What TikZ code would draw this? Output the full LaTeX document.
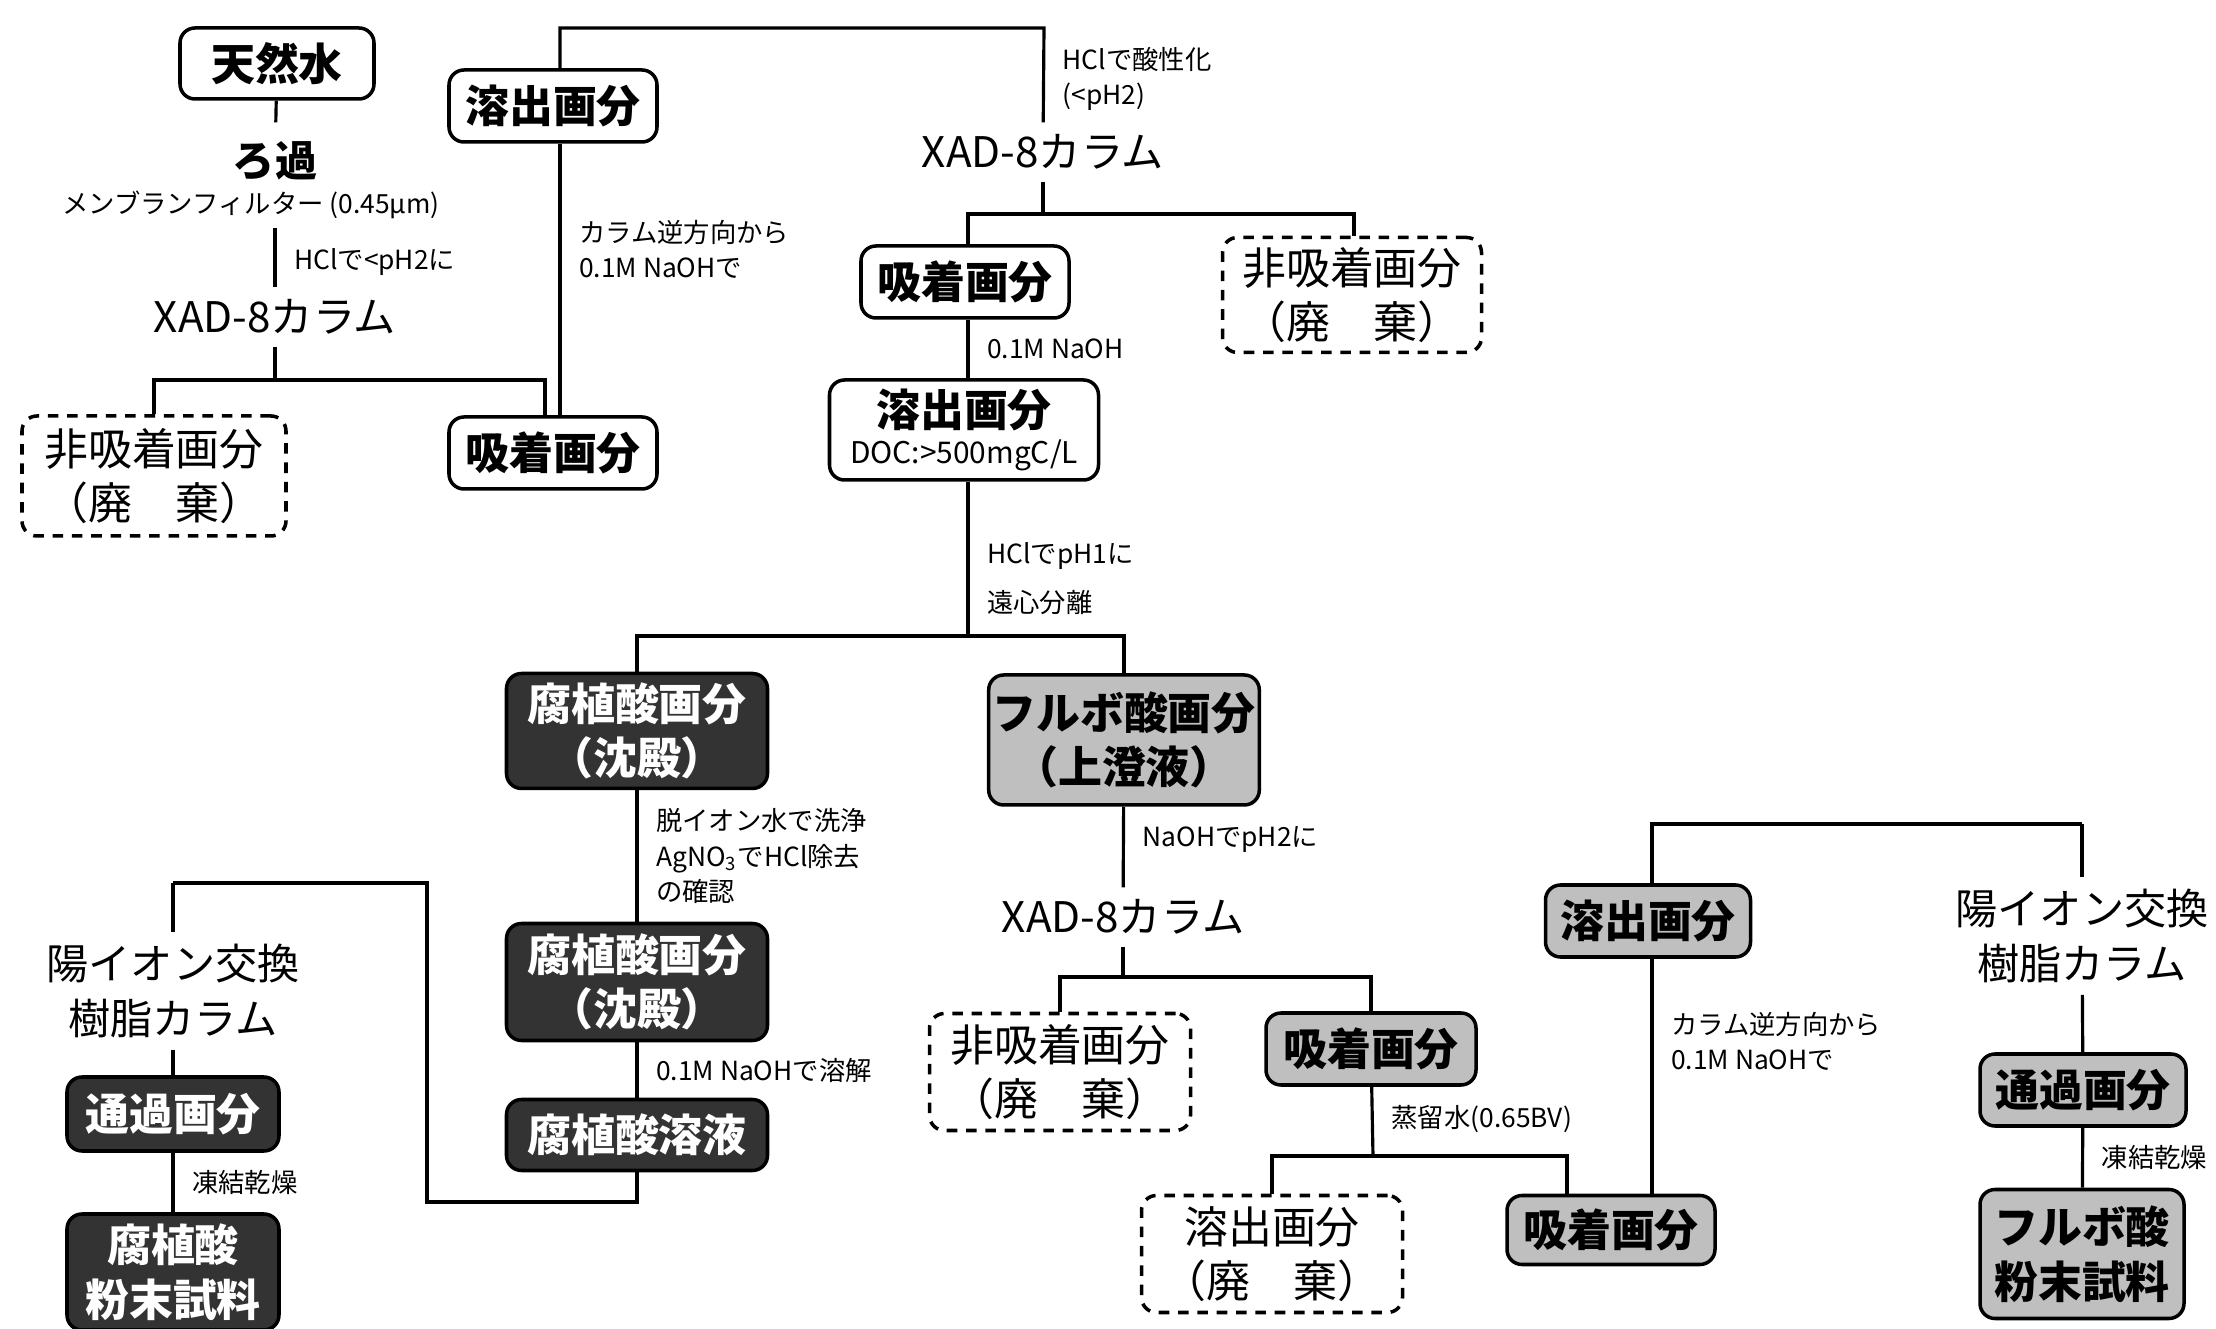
\documentclass[tikz,border=0pt]{standalone}
\usepackage{fontspec}
\newfontfamily\jp{Noto Sans CJK JP}
\newcommand{\jpbox}{\jp\bfseries\fontsize{12.5}{15.5}\selectfont}
\newcommand{\jpthin}{\jp\fontsize{12.5}{15.5}\selectfont}
\newcommand{\jpcol}{\jp\fontsize{12}{15.5}\selectfont}
\newcommand{\jpsmall}{\jp\fontsize{7.5}{10}\selectfont}
\usetikzlibrary{calc}

\begin{document}
\begin{tikzpicture}[line width=0.9pt,
        frac/.style={rectangle,rounded corners=1.5mm,draw=black,line width=1pt,fill=white,font=\jpbox,
          align=center,inner sep=1pt,minimum width=2.08cm,minimum height=0.72cm},
        dark/.style={frac,fill=black!80,text=white},
        tone/.style={frac,fill=black!25},
        waste/.style={frac,font=\jpthin,dash pattern=on 3pt off 2.5pt,minimum width=2.61cm,minimum height=1.17cm},
        colhead/.style={font=\jpcol,align=center,inner sep=3pt},
        note/.style={font=\jpsmall,align=left,inner sep=0pt,anchor=west,xshift=5pt}]
        \useasboundingbox (0,0) rectangle (22.16,-13.29);
        % left column
        \node[frac,minimum width=1.94cm,minimum height=0.71cm] (sui) at (2.77,-0.635) {天然水};
        \node[colhead,font=\jpcol\bfseries] (roka) at (2.75,-1.61) {ろ過};
        \node[font=\jpsmall,inner sep=2pt] (mem) at (2.51,-2.05) {メンブランフィルター (0.45μm)};
        \node[colhead] (xad1) at (2.75,-3.17) {XAD-8カラム};
        \node[waste,minimum width=2.64cm,minimum height=1.20cm] (hi1) at (1.54,-4.76) {非吸着画分\\（廃　棄）};
        \node[frac] (kyu1) at (5.53,-4.53) {吸着画分};
        \node[frac] (yo1) at (5.53,-1.06) {溶出画分};
        % upper middle
        \node[colhead] (xad2) at (10.43,-1.52) {XAD-8カラム};
        \node[frac] (kyu2) at (9.65,-2.82) {吸着画分};
        \node[waste,minimum width=2.59cm,minimum height=1.15cm] (hi2) at (13.52,-2.95) {非吸着画分\\（廃　棄）};
        \node[frac,minimum width=2.69cm,minimum height=1.00cm] (yo2) at (9.64,-4.30)
          {溶出画分\\[-5pt]{\jp\mdseries\fontsize{8.5}{10}\selectfont DOC:>500mgC/L}};
        % humic acid
        \node[dark,minimum width=2.61cm,minimum height=1.15cm] (dk1) at (6.37,-7.31) {腐植酸画分\\（沈殿）};
        \node[dark,minimum width=2.61cm,minimum height=1.17cm] (dk2) at (6.37,-9.82) {腐植酸画分\\（沈殿）};
        \node[dark,minimum width=2.61cm,minimum height=0.71cm] (dk3) at (6.37,-11.35) {腐植酸溶液};
        \node[colhead] (yoion1) at (1.73,-9.91) {陽イオン交換\\樹脂カラム};
        \node[dark,minimum width=2.12cm,minimum height=0.74cm] (tsuka1) at (1.73,-11.14) {通過画分};
        \node[dark,minimum width=2.12cm,minimum height=1.16cm] (fun1) at (1.73,-12.72) {腐植酸\\粉末試料};
        % fulvic acid
        \node[tone,minimum width=2.65cm,minimum height=1.30cm] (fulvo) at (11.24,-7.40) {フルボ酸画分\\（上澄液）};
        \node[colhead] (xad3) at (11.23,-9.17) {XAD-8カラム};
        \node[waste] (hi3) at (10.60,-10.72) {非吸着画分\\（廃　棄）};
        \node[tone,minimum width=2.10cm] (kyu3) at (13.71,-10.49) {吸着画分};
        \node[waste] (yo3) at (12.72,-12.54) {溶出画分\\（廃　棄）};
        \node[tone,minimum height=0.69cm] (kyu4) at (16.11,-12.30) {吸着画分};
        \node[tone,minimum width=2.05cm] (yo4) at (16.48,-9.21) {溶出画分};
        \node[colhead] (yoion2) at (20.82,-9.36) {陽イオン交換\\樹脂カラム};
        \node[tone,minimum width=2.06cm] (tsuka2) at (20.83,-10.90) {通過画分};
        \node[tone,minimum width=2.04cm,minimum height=1.29cm] (fun2) at (20.82,-12.54) {フルボ酸\\粉末試料};
        % junctions
        \coordinate (b1) at (2.75,-3.80);
        \coordinate (t1) at (10.44,-0.28);
        \coordinate (b2) at (10.43,-2.14);
        \coordinate (b3) at (9.68,-6.36);
        \coordinate (r1) at (4.27,-12.02);
        \coordinate (r2) at (1.73,-8.83);
        \coordinate (b4) at (11.23,-9.77);
        \coordinate (b5) at (13.73,-11.56);
        \coordinate (t2) at (20.82,-8.24);
        \path
          (sui) edge[shorten >=2pt] (roka)
          (mem.south -| roka) edge node[note,pos=0.58] {HClで<pH2に} (xad1)
          (xad1) edge (b1)
          ([xshift=0.7mm]kyu1.north) edge node[note,pos=0.61] {カラム逆方向から\\0.1M NaOHで} ([xshift=0.7mm]yo1.south)
          (xad2) edge (b2)
          ([xshift=0.3mm]kyu2.south) edge node[note] {0.1M NaOH} ([xshift=0.3mm]kyu2.south |- yo2.north)
          (yo2.south -| b3) edge node[note,pos=0.63] {HClでpH1に\\[4pt]遠心分離} (b3)
          (dk1) edge node[note] {脱イオン水で洗浄\\AgNO\textsubscript{3}でHCl除去\\の確認} (dk2)
          (dk2) edge node[note] {0.1M NaOHで溶解} (dk3)
          (r2) edge (yoion1)
          (yoion1) edge (tsuka1)
          (tsuka1) edge node[note] {凍結乾燥} (fun1)
          (fulvo) edge node[note,pos=0.4] {NaOHでpH2に} (xad3)
          (xad3) edge (b4)
          (kyu3) edge node[note,pos=0.46] {蒸留水(0.65BV)} (b5)
          ([xshift=0.4mm]yo4.south) edge node[note,pos=0.35] {カラム逆方向から\\0.1M NaOHで} ([xshift=0.4mm]yo4.south |- kyu4.north)
          (t2) edge (yoion2)
          (yoion2) edge (tsuka2)
          (tsuka2) edge node[note] {凍結乾燥} (fun2);
        \draw (hi1.north) |- (b1) -| ([xshift=-0.8mm]kyu1.north);
        \draw ([xshift=0.7mm]yo1.north) |- (t1) -- node[note,pos=0.54] {HClで酸性化\\(<pH2)} (xad2);
        \draw ([xshift=0.3mm]kyu2.north) |- (b2) -| ([xshift=0.2mm]hi2.north);
        \draw (dk1) |- (b3) -| (fulvo);
        \draw (dk3) |- (r1) |- (r2);
        \draw (hi3) |- (b4) -| (kyu3);
        \draw (yo3) |- (b5) -| ([xshift=-4.4mm]kyu4.north);
        \draw ([xshift=0.4mm]yo4.north) |- (t2);
      \end{tikzpicture}
\end{document}
